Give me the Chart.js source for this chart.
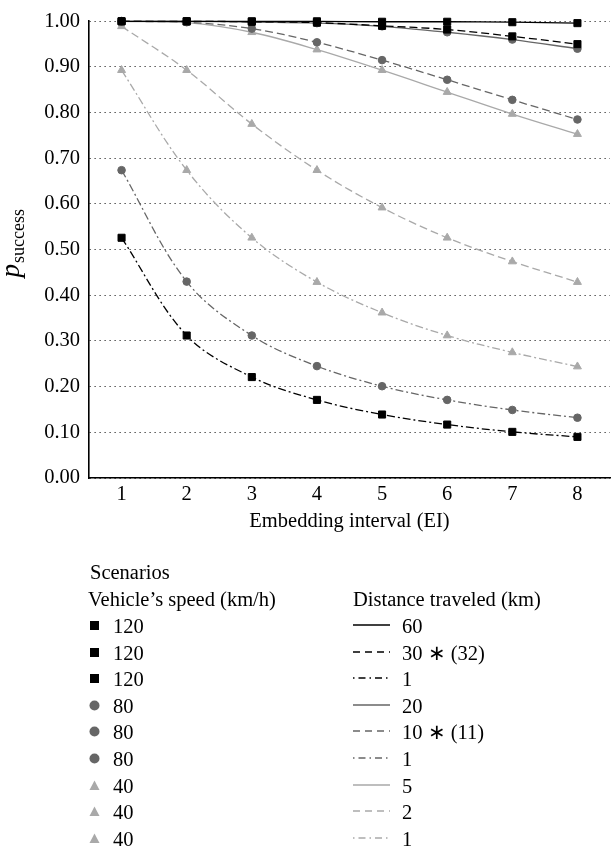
<!DOCTYPE html>
<html>
<head>
<meta charset="utf-8">
<script src="https://cdn.jsdelivr.net/npm/chart.js@4.4.1/dist/chart.umd.min.js"></script>
<style>
  body { margin: 0; background: #fff; font-family: "Liberation Serif", serif; color: #000; }
  #wrap { position: absolute; left: 0; top: 0; width: 616px; height: 540px; }
  #legend { position: absolute; left: 0; top: 0; width: 616px; height: 853px; }
  .lg { position: absolute; font-size: 20.5px; line-height: 26px; height: 26px; white-space: nowrap; }
</style>
</head>
<body>
<div id="wrap"><canvas id="chart" width="616" height="540"></canvas></div>
<div id="legend"></div>
<script>
// embedding intervals (x axis)
const intervals = ['1', '2', '3', '4', '5', '6', '7', '8'];

// scenario labels
const speeds = ['120', '120', '120', '80', '80', '80', '40', '40', '40'];
const distances = ['60', '30 \u2217 (32)', '1', '20', '10 \u2217 (11)', '1', '5', '2', '1'];

// p_success per scenario
const v120d60 = [1.000, 1.000, 1.000, 1.000, 0.999, 0.999, 0.998, 0.996];
const v120d30 = [1.000, 1.000, 0.999, 0.997, 0.990, 0.982, 0.967, 0.950];
const v120d1  = [0.526, 0.312, 0.221, 0.171, 0.139, 0.117, 0.101, 0.090];
const v80d20  = [1.000, 1.000, 0.998, 0.996, 0.989, 0.976, 0.960, 0.940];
const v80d10  = [1.000, 0.998, 0.984, 0.954, 0.915, 0.872, 0.828, 0.785];
const v80d1   = [0.674, 0.430, 0.312, 0.245, 0.201, 0.171, 0.149, 0.132];
const v40d5   = [1.000, 0.997, 0.976, 0.938, 0.893, 0.845, 0.797, 0.753];
const v40d2   = [0.989, 0.893, 0.775, 0.674, 0.592, 0.526, 0.474, 0.429];
const v40d1   = [0.893, 0.674, 0.526, 0.429, 0.362, 0.312, 0.275, 0.244];

const seriesValues = [v120d60, v120d30, v120d1, v80d20, v80d10, v80d1, v40d5, v40d2, v40d1];

// styling
const FONT = '"Liberation Serif", "Times New Roman", serif';
const FS = 20.5;
const speedColor = { '120': '#000000', '80': '#666666', '40': '#a9a9a9' };
const speedMarker = { '120': 'rect', '80': 'circle', '40': 'triangle' };
const speedRadius = { '120': 5, '80': 3.8, '40': 4.6 };
const dashKinds = ['solid', 'dash', 'dashdot'];
const dashPattern = { solid: [], dash: [8, 4], dashdot: [8, 3, 2, 3] };

const datasets = seriesValues.map((vals, i) => {
    const sp = speeds[i];
    const col = speedColor[sp];
    return {
        label: sp + ' km/h, ' + distances[i] + ' km',
        data: vals,
        borderColor: col,
        backgroundColor: col,
        borderWidth: 1.3,
        borderDash: dashPattern[dashKinds[i % 3]],
        pointStyle: speedMarker[sp],
        pointRadius: speedRadius[sp],
        pointBackgroundColor: col,
        pointBorderColor: col,
        pointBorderWidth: 1,
        tension: 0.35,
        fill: false,
        clip: false
    };
});

// y axis title with subscript
const yTitle = {
    id: 'yTitle',
    afterDraw(chart) {
        const ctx = chart.ctx;
        const a = chart.chartArea;
        const cy = (a.top + a.bottom) / 2 - 6;
        ctx.save();
        ctx.translate(19, cy);
        ctx.rotate(-Math.PI / 2);
        ctx.fillStyle = '#000';
        ctx.textBaseline = 'alphabetic';
        ctx.font = 'italic 27px ' + FONT;
        const pw = ctx.measureText('p').width;
        ctx.font = '18px ' + FONT;
        const sw = ctx.measureText('success').width;
        const x0 = -(pw + sw) / 2;
        ctx.font = 'italic 27px ' + FONT;
        ctx.fillText('p', x0, 0);
        ctx.font = '18px ' + FONT;
        ctx.fillText('success', x0 + pw + 1, 5);
        ctx.restore();
    }
};

new Chart(document.getElementById('chart'), {
    type: 'line',
    data: { labels: intervals, datasets: datasets },
    options: {
        responsive: false,
        animation: false,
        layout: { padding: { top: 4, right: 0, bottom: 0, left: 0 } },
        plugins: { legend: { display: false }, tooltip: { enabled: false } },
        scales: {
            x: {
                type: 'category',
                offset: true,
                grid: { display: false, drawTicks: false },
                border: { display: true, color: '#000', width: 1.6 },
                ticks: { color: '#000', font: { family: FONT, size: FS }, padding: 4, maxRotation: 0 },
                title: {
                    display: true, text: 'Embedding interval (EI)', color: '#000',
                    font: { family: FONT, size: FS }, padding: { top: 0, bottom: 6 }
                },
                afterFit(s) { s.height = 62; }
            },
            y: {
                min: 0, max: 1,
                ticks: {
                    stepSize: 0.1, color: '#000', padding: 9,
                    font: { family: FONT, size: FS },
                    callback: v => Number(v).toFixed(2)
                },
                grid: { color: '#000', lineWidth: 1, drawTicks: false },
                border: { display: true, color: '#000', width: 1.6, dash: [1, 4] },
                afterFit(s) { s.width = 89; }
            }
        }
    },
    plugins: [yTitle]
});

// legend below the plot
const legend = document.getElementById('legend');
function addText(text, left, cy) {
    const d = document.createElement('div');
    d.className = 'lg';
    d.style.left = left + 'px';
    d.style.top = (cy - 14) + 'px';
    d.textContent = text;
    legend.appendChild(d);
    return d;
}
function markerSvg(sp) {
    const col = speedColor[sp];
    if (sp === '120') return `<rect x="1" y="1" width="9" height="9" fill="${col}"/>`;
    if (sp === '80') return `<circle cx="5.5" cy="5.5" r="5" fill="${col}"/>`;
    return `<polygon points="5.5,0.5 10.5,10 0.5,10" fill="${col}"/>`;
}
function lineSvg(i) {
    const col = speedColor[speeds[i]];
    const kind = dashKinds[i % 3];
    const dash = kind === 'solid' ? '' : kind === 'dash' ? '7 5' : '1.5 4 7 4';
    return `<line x1="0" y1="2" x2="37" y2="2" stroke="${col}" stroke-width="1.5" stroke-dasharray="${dash}"/>`;
}
addText('Scenarios', 90, 573);
addText('Vehicle\u2019s speed (km/h)', 88, 600);
addText('Distance traveled (km)', 353, 600);
speeds.forEach((sp, i) => {
    const cy = 627 + i * 26.6;
    const s = document.createElementNS('http://www.w3.org/2000/svg', 'svg');
    s.setAttribute('width', '12'); s.setAttribute('height', '12');
    s.style.position = 'absolute';
    s.style.left = '89px'; s.style.top = (cy - 7) + 'px';
    s.innerHTML = markerSvg(sp);
    legend.appendChild(s);
    addText(sp, 113, cy);

    const l = document.createElementNS('http://www.w3.org/2000/svg', 'svg');
    l.setAttribute('width', '38'); l.setAttribute('height', '4');
    l.style.position = 'absolute';
    l.style.left = '353px'; l.style.top = (cy - 4) + 'px';
    l.innerHTML = lineSvg(i);
    legend.appendChild(l);
    addText(distances[i], 402, cy);
});
</script>
</body>
</html>
